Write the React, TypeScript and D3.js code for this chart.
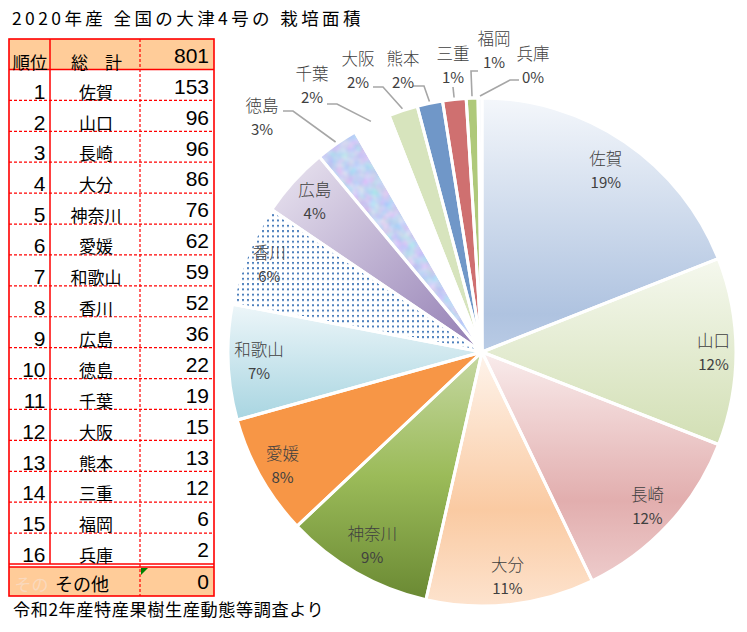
import React from "react";
import * as d3 from "d3";

// 2020年産 大津4号 栽培面積 (ha)
const prefectures = ["佐賀", "山口", "長崎", "大分", "神奈川", "愛媛", "和歌山", "香川", "広島", "徳島", "千葉", "大阪", "熊本", "三重", "福岡", "兵庫"];
const areas = [153, 96, 96, 86, 76, 62, 59, 52, 36, 22, 19, 15, 13, 12, 6, 2];
const ranks = [1, 2, 3, 4, 5, 6, 7, 8, 9, 10, 11, 12, 13, 14, 15, 16];
const totalArea = 801;
const otherArea = 0;
const headerLabels = ["順位", "総　計"];
const otherLabel = "その他";
const title = "2020年産 全国の大津4号の 栽培面積";
const source = "令和2年産特産果樹生産動態等調査より";

const W = 747;
const H = 632;
const cx = 482;
const cy = 352;
const R = 254;

const CJK = "'Noto Sans CJK JP', 'Noto Sans', sans-serif";
const NUM = "'Liberation Sans', Arial, sans-serif";
const RED = "#ff0000";
const PEACH = "#ffcc99";
const LABEL = "#404040";

// slice fills, in the same order as prefectures
const sliceFills = [
  "url(#g0)", "url(#g1)", "url(#g2)", "url(#g3)", "url(#g4)", "#f79646",
  "url(#g6)", "url(#dots)", "url(#g8)", "#c2d3f3", "#ffffff", "#d7e4bd",
  "#7097c8", "#cf7070", "#afc97a", "#eef0f6",
];

const gradients = [
  { id: "g0", diag: false, stops: [["0%", "#f4f7fb"], ["85%", "#afc3e0"], ["100%", "#b9cbe5"]] },
  { id: "g1", diag: false, stops: [["0%", "#f5f8ee"], ["100%", "#d2dfb4"]] },
  { id: "g2", diag: false, stops: [["0%", "#f9ecec"], ["65%", "#e2aeae"], ["100%", "#edcbcb"]] },
  { id: "g3", diag: false, stops: [["0%", "#fef4ec"], ["62%", "#facaa2"], ["100%", "#fde3ce"]] },
  { id: "g4", diag: false, stops: [["0%", "#c6d8a3"], ["50%", "#9bbb59"], ["100%", "#6a8933"]] },
  { id: "g6", diag: false, stops: [["0%", "#edf6f9"], ["100%", "#a8d5e1"]] },
  { id: "g8", diag: true, stops: [["0%", "#ebe6f1"], ["100%", "#927db3"]] },
];

// hand-placed labels for the thin slices at the top (offsets from the pie centre)
const outsideLayout: Record<string, { label: [number, number]; start: [number, number]; elbow: [number, number] }> = {
  徳島: { label: [-220, -235], start: [-199, -241], elbow: [-189, -241] },
  千葉: { label: [-170, -267], start: [-155, -248], elbow: [-145, -248] },
  大阪: { label: [-124, -282], start: [-109, -265], elbow: [-99, -265] },
  熊本: { label: [-79, -282], start: [-69, -266], elbow: [-58, -266] },
  三重: { label: [-29, -287], start: [-29, -265], elbow: [-29, -265] },
  福岡: { label: [12, -302], start: [-4, -281], elbow: [-11, -281] },
  兵庫: { label: [51, -287], start: [37, -272], elbow: [28, -272] },
};

const NAME_SIZE = 16.5;
const PCT_SIZE = 15;
const LINE_GAP = 11.75;

function insideLabelPos(mid: number, name: string): [number, number] {
  const hw = (name.length * NAME_SIZE) / 2;
  const hh = 23;
  const s = Math.abs(Math.sin(mid));
  const c = Math.abs(Math.cos(mid));
  const ext = Math.min(s > 1e-6 ? hw / s : Infinity, c > 1e-6 ? hh / c : Infinity);
  const dist = R - 6 - ext;
  return [Math.sin(mid) * dist, -Math.cos(mid) * dist];
}

function PieChart() {
  const sum = d3.sum(areas);
  const pie = d3.pie<number>().sort(null).value((d) => d);
  const arcs = pie(areas);
  const arc = d3.arc<d3.PieArcDatum<number>>().innerRadius(0).outerRadius(R);
  const edge = d3.arc<d3.PieArcDatum<number>>().innerRadius(R + 2).outerRadius(R + 2);
  const pct = d3.format(".0%");
  const line = d3.line();

  return (
    <g transform={`translate(${cx},${cy})`}>
      {arcs.map((d, i) => (
        <path key={`f${i}`} d={arc(d) || ""} fill={sliceFills[i]} />
      ))}
      {arcs.map((d, i) =>
        prefectures[i] === "徳島" ? (
          <path key="tex" d={arc(d) || ""} fill="#fff" filter="url(#mottle)" />
        ) : null
      )}
      {arcs.map((d, i) => (
        <path key={`s${i}`} d={arc(d) || ""} fill="none" stroke="#ffffff" strokeWidth={3} strokeLinejoin="round" />
      ))}
      {arcs.map((d, i) => {
        const name = prefectures[i];
        const p = pct(areas[i] / sum);
        const out = outsideLayout[name];
        let x: number;
        let y: number;
        let leader: string | null = null;
        if (out) {
          [x, y] = out.label;
          const end = edge.centroid(d) as [number, number];
          leader = line([out.start, out.elbow, end]);
        } else {
          [x, y] = insideLabelPos((d.startAngle + d.endAngle) / 2, name);
        }
        return (
          <g key={`l${i}`}>
            {leader && <path d={leader} fill="none" stroke="#a6a6a6" strokeWidth={1.6} />}
            <text x={x} y={y - LINE_GAP} textAnchor="middle" dominantBaseline="central" fontFamily={CJK} fontSize={NAME_SIZE} fontWeight={300} fill={LABEL}>
              {name}
            </text>
            <text x={x} y={y + LINE_GAP} textAnchor="middle" dominantBaseline="central" fontFamily={CJK} fontSize={PCT_SIZE} fill={LABEL}>
              {p}
            </text>
          </g>
        );
      })}
    </g>
  );
}

function RankTable() {
  const left = 9;
  const c1 = 50;
  const c2 = 140;
  const right = 214;
  const top = 39;
  const headBottom = 69.5;
  const bodyBottom = 564;
  const footTop = 567;
  const footBottom = 596;
  const rows = d3.scaleBand<number>().domain(ranks).range([headBottom, bodyBottom]);
  const rh = rows.bandwidth();
  const dash = { stroke: RED, strokeWidth: 1.2, strokeDasharray: "3 2" };

  return (
    <g>
      <rect x={left} y={top} width={right - left} height={headBottom - top} fill={PEACH} />
      <rect x={left} y={footTop} width={right - left} height={footBottom - footTop} fill={PEACH} />

      {ranks.slice(1).map((r) => (
        <line key={`h${r}`} x1={left} x2={right} y1={rows(r)} y2={rows(r)} {...dash} />
      ))}
      <line x1={c2} x2={c2} y1={top} y2={footBottom} {...dash} />
      <line x1={c1} x2={c1} y1={top} y2={bodyBottom} stroke={RED} strokeWidth={1.5} />
      <line x1={left} x2={right} y1={headBottom} y2={headBottom} stroke={RED} strokeWidth={1.5} />
      <line x1={left} x2={right} y1={bodyBottom} y2={bodyBottom} stroke={RED} strokeWidth={1.3} />
      <line x1={left} x2={right} y1={footTop} y2={footTop} stroke={RED} strokeWidth={1.3} />
      <rect x={left} y={top} width={right - left} height={footBottom - top} fill="none" stroke={RED} strokeWidth={1.6} />

      <text x={(left + c1) / 2 + 0.5} y={61} textAnchor="middle" dominantBaseline="central" fontFamily={CJK} fontSize={17.5} fill="#000">
        {headerLabels[0]}
      </text>
      <text x={96.5} y={61} textAnchor="middle" dominantBaseline="central" fontFamily={CJK} fontSize={17} fill="#000">
        {headerLabels[1]}
      </text>
      <text x={209} y={55} textAnchor="end" dominantBaseline="central" fontFamily={NUM} fontSize={21} fill="#000">
        {totalArea}
      </text>

      {ranks.map((r, i) => {
        const y0 = rows(r) as number;
        return (
          <g key={`r${r}`}>
            <text x={45.5} y={y0 + rh * 0.7} textAnchor="end" dominantBaseline="central" fontFamily={NUM} fontSize={21} fill="#000">
              {r}
            </text>
            <text x={96} y={y0 + rh * 0.7} textAnchor="middle" dominantBaseline="central" fontFamily={CJK} fontSize={17} fill="#000">
              {prefectures[i]}
            </text>
            <text x={209} y={y0 + rh * 0.54} textAnchor="end" dominantBaseline="central" fontFamily={NUM} fontSize={21} fill="#000">
              {areas[i]}
            </text>
          </g>
        );
      })}

      <text x={31.5} y={583} textAnchor="middle" dominantBaseline="central" fontFamily={CJK} fontSize={17} fill="#fad9bd">
        {otherLabel.slice(0, 2)}
      </text>
      <text x={82} y={583} textAnchor="middle" dominantBaseline="central" fontFamily={CJK} fontSize={18} fill="#000">
        {otherLabel}
      </text>
      <text x={209} y={581.5} textAnchor="end" dominantBaseline="central" fontFamily={NUM} fontSize={21} fill="#000">
        {otherArea}
      </text>
      <path d={`M${c2 + 1},${footTop + 1}h7l-7,7z`} fill="#008000" />
    </g>
  );
}

export default function App() {
  return (
    <svg
      width={W}
      height={H}
      viewBox={`0 0 ${W} ${H}`}
      style={{ position: "absolute", left: 0, top: 0, background: "#fff" }}
    >
      <defs>
        {gradients.map((g) => (
          <linearGradient key={g.id} id={g.id} x1="0" y1="0" x2={g.diag ? "1" : "0"} y2="1">
            {g.stops.map(([o, c]) => (
              <stop key={o} offset={o} stopColor={c} />
            ))}
          </linearGradient>
        ))}
        <pattern id="dots" width={5} height={5.3} patternUnits="userSpaceOnUse">
          <rect width={5} height={5.3} fill="#fff" />
          <rect x={0} y={0} width={2} height={2} fill="#4f81bd" />
        </pattern>
        <filter id="mottle" x="0" y="0" width="1" height="1" colorInterpolationFilters="sRGB">
          <feTurbulence type="fractalNoise" baseFrequency="0.09" numOctaves={2} seed={7} result="n" />
          <feColorMatrix
            in="n"
            type="matrix"
            values="0.3 0 0 0 0.63  0 0.22 0 0 0.71  0 0 0.1 0 0.9  0 0 0 0 1"
            result="c"
          />
          <feComposite in="c" in2="SourceAlpha" operator="in" />
        </filter>
      </defs>

      <rect width={W} height={H} fill="#fff" />
      <text x={12} y={25} fontFamily={CJK} fontSize={17.5} letterSpacing={3.4} fill="#000">
        {title}
      </text>

      <RankTable />
      <PieChart />

      <text x={13} y={616} fontFamily={CJK} fontSize={17.2} letterSpacing={0.55} fill="#000">
        {source}
      </text>
    </svg>
  );
}
